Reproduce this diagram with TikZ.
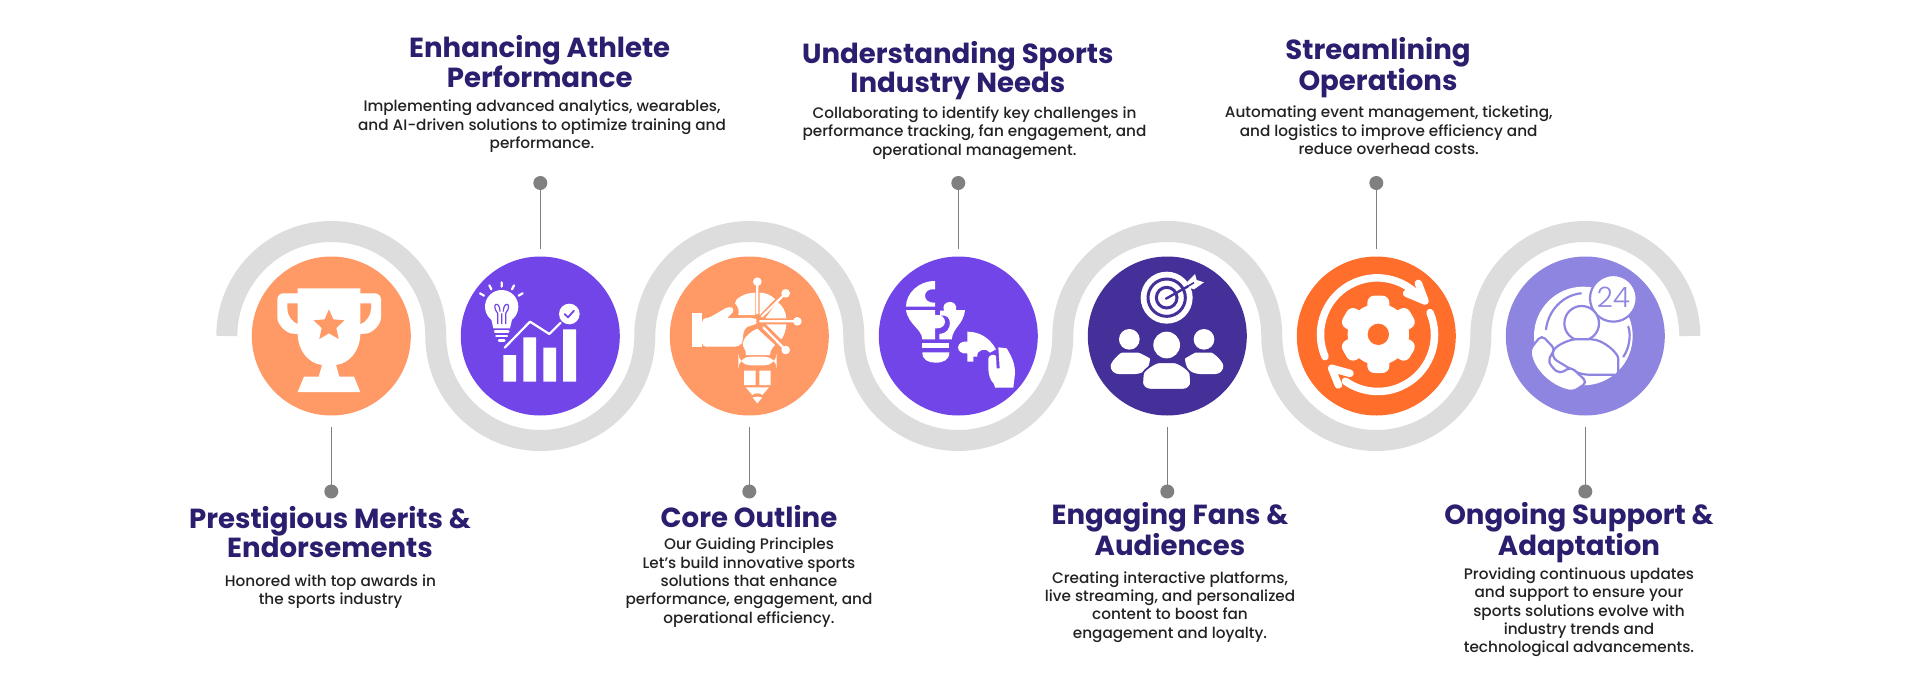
\documentclass[tikz,border=0pt]{standalone}
\usepackage{fontspec}
\setmainfont{Poppins}[UprightFont=* Medium]
\newfontfamily\hd{Poppins}[UprightFont=* Bold]
\newfontfamily\lt{Poppins}[UprightFont=* Light]
\definecolor{wavec}{HTML}{DDDDDD}
\definecolor{orangec}{HTML}{FF9966}
\definecolor{purplec}{HTML}{7245E8}
\definecolor{darkc}{HTML}{452F98}
\definecolor{brightc}{HTML}{FF6E2B}
\definecolor{lilacc}{HTML}{8E85E0}
\definecolor{headc}{HTML}{2B1E6E}
\definecolor{bodyc}{HTML}{222222}
\definecolor{linec}{HTML}{808080}
\tikzset{
 disc/.style={circle,minimum size=159pt,inner sep=0pt,outer sep=0pt,fill=#1},
 pin/.style={circle,minimum size=14pt,inner sep=0pt,outer sep=0pt,fill=linec},
 stem/.style={draw=linec,line width=1.6pt},
 head/.style={anchor=base,align=center,inner sep=0pt,text=headc,font=\hd\fontsize{27.6}{28}\selectfont},
 body/.style={anchor=base,align=center,inner sep=0pt,text=bodyc,font=\fontsize{15.25}{18.3}\selectfont},
 ic/.style={shift={#1},scale=1/3},
 wl/.style={draw=white,line cap=round,line join=round},
}
\begin{document}
\begin{tikzpicture}[x=1pt,y=1pt,yscale=-1]
\path[use as bounding box,fill=white] (0,0) rectangle (1920,688);
% wave
\draw[wavec,line width=21pt] (226.8,336)
  arc[start angle=180,end angle=360,radius=104.5pt]
  arc[start angle=180,end angle=0,radius=104.5pt]
  arc[start angle=180,end angle=360,radius=104.5pt]
  arc[start angle=180,end angle=0,radius=104.5pt]
  arc[start angle=180,end angle=360,radius=104.5pt]
  arc[start angle=180,end angle=0,radius=104.5pt]
  arc[start angle=180,end angle=360,radius=104.5pt];
% discs
\node[disc=orangec] (c1) at (331.3,336) {};
\node[disc=purplec] (c2) at (540.3,336) {};
\node[disc=orangec] (c3) at (749.3,336) {};
\node[disc=purplec] (c4) at (958.3,336) {};
\node[disc=darkc] (c5) at (1167.3,336) {};
\node[disc=brightc] (c6) at (1376.3,336) {};
\node[disc=lilacc] (c7) at (1585.3,336) {};
% pins
\node[pin] (p1) at (331.3,491.5) {};
\node[pin] (p2) at (540.3,183) {};
\node[pin] (p3) at (749.3,491.5) {};
\node[pin] (p4) at (958.3,183) {};
\node[pin] (p5) at (1167.3,491.5) {};
\node[pin] (p6) at (1376.3,183) {};
\node[pin] (p7) at (1585.3,491.5) {};
\foreach \i in {1,3,5,7} \draw[stem,shorten <=11pt] (c\i) -- (p\i);
\foreach \i in {2,4,6} \draw[stem,shorten <=8pt] (c\i) -- (p\i);
% texts (anchor=base sits on the last line)
\node[head] (h1) at (330,557.7) {Prestigious Merits \&\\Endorsements};
\node[body] (b1) at (330.5,604.3) {Honored with top awards in\\the sports industry};
\node[head] (h2) at (539.7,87.7) {Enhancing Athlete\\Performance};
\node[body] (b2) at (542,148.3) {Implementing advanced analytics, wearables,\\and AI-driven solutions to optimize training and\\performance.};
\node[head] (h3) at (749,527.3) {Core Outline};
\node[body] (b3) at (749,623) {Our Guiding Principles\\Let’s build innovative sports\\solutions that enhance\\performance, engagement, and\\operational efficiency.};
\node[head] (h4) at (957.8,92.3) {Understanding Sports\\Industry Needs};
\node[body] (b4) at (974.5,155) {Collaborating to identify key challenges in\\performance tracking, fan engagement, and\\operational management.};
\node[head] (h5) at (1170,555) {Engaging Fans \&\\Audiences};
\node[body] (b5) at (1170,638) {Creating interactive platforms,\\live streaming, and personalized\\content to boost fan\\engagement and loyalty.};
\node[head] (h6) at (1378,90) {Streamlining\\Operations};
\node[body] (b6) at (1388.7,154.3) {Automating event management, ticketing,\\and logistics to improve efficiency and\\reduce overhead costs.};
\node[head] (h7) at (1579,555) {Ongoing Support \&\\Adaptation};
\node[body] (b7) at (1579,652.7) {Providing continuous updates\\and support to ensure your\\sports solutions evolve with\\industry trends and\\technological advancements.};
% icon 1 trophy
\begin{scope}[ic={(200,200)}]
\fill[white,rounded corners=6pt] (232,280) -- (543,280) -- (543,335) .. controls (543,375) and (515,400) .. (480,402) -- (295,402) .. controls (260,400) and (232,375) .. (232,335) -- cycle;
\fill[orangec] (262,310) -- (295,310) -- (295,373) .. controls (275,365) and (262,345) .. (262,325) -- cycle;
\fill[orangec] (513,310) -- (480,310) -- (480,373) .. controls (500,365) and (513,345) .. (513,325) -- cycle;
\fill[white] (293,265) -- (481,265) -- (481,400) .. controls (481,450) and (450,490) .. (408,495) -- (418,530) -- (462,530) -- (481,576) -- (293,576) -- (312,530) -- (356,530) -- (366,495) .. controls (324,490) and (293,450) .. (293,400) -- cycle;
\fill[orangec] (387,328) -- (400,358) -- (433,361) -- (409,384) -- (416,417) -- (387,400) -- (358,417) -- (365,384) -- (341,361) -- (374,358) -- cycle;
\end{scope}
% icon 2 bulb and chart
\begin{scope}[ic={(200,200)}]
\fill[white] (910,465) rectangle (948,545) (970,412) rectangle (1008,545) (1030,443) rectangle (1068,545) (1089,388) rectangle (1128,545);
\draw[wl,line width=2.2pt] (914,443) -- (990,365) -- (1048,402) -- (1082,368);
\fill[white] (1108,342) circle[radius=31pt];
\draw[draw=purplec,line width=1.8pt,line cap=round,line join=round] (1094,342) -- (1104,352) -- (1122,332);
\fill[white] (905,320) circle[radius=50pt];
\fill[white] (872,350) -- (938,350) -- (930,385) -- (880,385) -- cycle;
\draw[purplec,line width=1.2pt] (893,372) -- (893,340) .. controls (870,310) and (900,300) .. (900,335) (917,372) -- (917,340) .. controls (940,310) and (910,300) .. (910,335) (905,340) -- (905,372);
\draw[wl,line width=2.4pt] (885,395) -- (925,395) (889,408) -- (921,408);
\draw[wl,line width=2.4pt] (897,421) -- (913,421);
\draw[wl,line width=2.2pt] (905,247) -- (905,260) (868,256) -- (874,268) (942,256) -- (936,268) (840,280) -- (852,287) (968,280) -- (956,287);
\end{scope}
% icon 3 hand and idea pencil
\begin{scope}[ic={(680,250)}]
\fill[white] (37,190) rectangle (66,291);
\fill[white,rounded corners=4pt] (66,205) -- (85,205) -- (148,168) -- (165,178) -- (150,198) -- (135,205) -- (225,203) -- (232,214) -- (225,226) -- (200,228) -- (188,250) -- (190,272) -- (178,290) -- (66,290) -- cycle;
\fill[white] (170,148) .. controls (185,135) and (205,128) .. (226,128) -- (226,195) -- (175,195) .. controls (180,180) and (170,165) .. (165,160) -- cycle;
\fill[white] (239,128) .. controls (258,128) and (272,135) .. (285,147) -- (239,195) -- cycle;
\fill[white] (292,155) .. controls (308,168) and (318,185) .. (319,205) -- (256,205) -- cycle;
\fill[white] (258,223) -- (319,223) .. controls (318,240) and (312,258) .. (304,268) -- cycle;
\fill[white] (232,236) -- (285,285) .. controls (275,295) and (270,305) .. (270,315) -- (198,315) .. controls (198,295) and (188,295) .. (188,280) .. controls (190,265) and (210,245) .. (232,236) -- cycle;
\draw[wl,line width=2.2pt] (232,95) -- (232,190) (317,130) -- (245,200) (352,214) -- (240,214) (317,300) -- (250,232);
\fill[white] (232,95) circle[radius=13pt] (317,130) circle[radius=13pt] (352,214) circle[radius=13pt] (317,300) circle[radius=13pt];
\fill[white,rounded corners=12pt] (175,320) rectangle (290,346);
\fill[white] (192,362) rectangle (227,405) (238,362) rectangle (272,405);
\fill[white] (197,412) -- (267,412) -- (247,435) .. controls (240,428) and (225,428) .. (217,435) -- cycle;
\fill[white] (218,443) .. controls (225,439) and (240,439) .. (246,443) -- (232,460) -- cycle;
\end{scope}
% icon 4 puzzle bulb
\begin{scope}[ic={(890,260)}]
\fill[white] (135,63) .. controls (85,63) and (48,100) .. (48,140) -- (135,140) -- (135,128) .. controls (95,132) and (95,82) .. (135,88) -- cycle;
\fill[white] (48,150) -- (135,150) -- (135,165) .. controls (175,160) and (175,210) .. (135,205) -- (135,238) -- (97,238) .. controls (95,205) and (55,195) .. (48,150) -- cycle;
\fill[white] (150,152) -- (162,152) .. controls (150,120) and (205,115) .. (198,150) -- (225,150) .. controls (220,195) and (190,200) .. (185,238) -- (148,238) -- (148,222) .. controls (190,222) and (190,155) .. (150,168) -- cycle;
\fill[white] (97,250) rectangle (178,265);
\fill[white] (97,277) -- (178,277) .. controls (178,300) and (160,308) .. (137,308) .. controls (115,308) and (97,300) .. (97,277) -- cycle;
\fill[white] (232,215) .. controls (270,215) and (300,235) .. (318,268) -- (300,278) .. controls (290,262) and (258,268) .. (262,290) -- (250,290) -- (250,305) -- (232,305) -- (232,280) .. controls (195,285) and (195,240) .. (232,245) -- cycle;
\fill[white] (325,262) -- (350,265) .. controls (365,290) and (375,310) .. (375,340) -- (370,383) -- (315,383) -- (312,372) .. controls (300,360) and (295,345) .. (295,320) -- (295,295) .. controls (297,285) and (312,280) .. (318,288) -- (320,325) -- (329,325) -- cycle;
\end{scope}
% icon 5 target and people
\begin{scope}[ic={(1080,250)}]
\fill[white] (260,143) circle[radius=78pt];
\draw[darkc,line width=3pt] (260,143) circle[radius=56pt];
\draw[darkc,line width=3pt] (260,143) circle[radius=31pt];
\draw[darkc,line width=2.4pt,line cap=round] (258,146) -- (340,100);
\fill[white] (322,95) -- (345,72) -- (350,90) -- (372,97) -- (342,118) -- (325,112) -- cycle;
\draw[darkc,line width=1.6pt] (318,112) -- (342,98);
\fill[white] (148,268) circle[radius=31pt] (372,268) circle[radius=31pt] (260,285) circle[radius=40pt];
\fill[white,rounded corners=8pt] (92,372) .. controls (92,335) and (120,308) .. (150,308) .. controls (180,308) and (210,325) .. (210,350) -- (190,372) -- cycle;
\fill[white,rounded corners=8pt] (430,372) .. controls (430,335) and (400,308) .. (370,308) .. controls (345,308) and (315,325) .. (315,350) -- (335,372) -- cycle;
\filldraw[fill=white,draw=darkc,line width=1.8pt,rounded corners=8pt] (186,419) -- (186,395) .. controls (190,360) and (225,337) .. (260,337) .. controls (295,337) and (330,360) .. (334,395) -- (334,419) -- cycle;
\end{scope}
% icon 6 gear
\begin{scope}[ic={(1290,250)}]
\fill[white] (265,253) circle[radius=92pt];
\foreach \a in {90,150,210,270,330,30}
 \fill[white,rounded corners=7pt,rotate around={\a:(265,253)}] (265+60,253-33) rectangle (265+116,253+33);
\fill[brightc] (265,253) circle[radius=32pt];
\draw[wl,line width=7.5pt] (105,320) arc[start angle=157,end angle=322,radius=170pt];
\draw[wl,line width=7.5pt] (385,100) -- (405,153) -- (350,130);
\draw[wl,line width=7.5pt] (420,188) arc[start angle=-23,end angle=125,radius=170pt];
\draw[wl,line width=7.5pt] (145,405) -- (125,355) -- (180,370);
\end{scope}
% icon 7 support
\begin{scope}[ic={(1500,250)}]
\fill[white] (250,258) circle[radius=148pt];
\draw[lilacc,line width=2.2pt,line cap=round] (138,238) .. controls (145,180) and (190,135) .. (243,130);
\draw[lilacc,line width=2.2pt,line cap=round] (385,230) .. controls (395,260) and (385,300) .. (370,320);
\filldraw[fill=white,draw=lilacc,line width=2.2pt] (340,145) circle[radius=70pt];
\node[text=lilacc,font=\lt\fontsize{28}{28}\selectfont] (n24) at (340,142) {24};
\filldraw[fill=white,draw=lilacc,line width=2.2pt] (245,220) circle[radius=52pt];
\filldraw[fill=white,draw=lilacc,line width=2.2pt,rounded corners=8pt] (150,320) .. controls (170,285) and (210,268) .. (250,268) .. controls (310,268) and (355,310) .. (355,350) .. controls (355,365) and (345,374) .. (335,374) -- (240,374) -- cycle;
\filldraw[fill=white,draw=lilacc,line width=2.2pt,rounded corners=5pt] (125,255) -- (167,300) -- (145,322) .. controls (150,345) and (165,360) .. (180,372) -- (212,350) -- (262,397) -- (220,425) .. controls (150,410) and (100,360) .. (90,298) -- cycle;
\end{scope}
\end{tikzpicture}
\end{document}
